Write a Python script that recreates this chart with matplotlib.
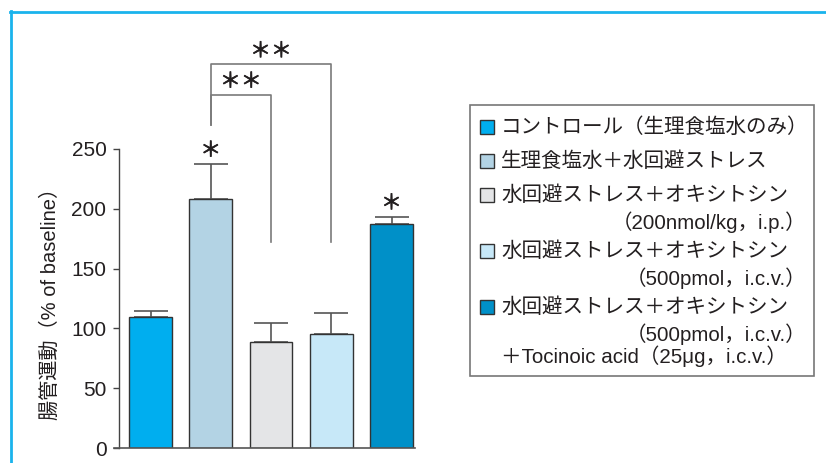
import matplotlib
matplotlib.use('Agg')
import matplotlib.pyplot as plt
import matplotlib.patheffects as pe
from matplotlib.patches import Rectangle
from matplotlib.lines import Line2D

# ── data ─────────────────────────────────────────────────────────────────────
groups = ['control', 'stress', 'oxt_ip', 'oxt_icv', 'oxt_icv_antag']
means = [109.5, 208.0, 88.6, 95.1, 187.3]
sems = [5.3, 29.2, 15.7, 17.5, 5.8]
bar_colors = ['#00AEEF', '#B3D3E4', '#E4E5E7', '#C7E8F8', '#0090C8']
yticks = [0, 50, 100, 150, 200, 250]
ylabel = '腸管運動（% of baseline）'

single_star_bars = [1, 4]
# (from bar, to bar, bracket height, drop-end height)
brackets = [(1, 2, 295.4, 172.0), (1, 3, 320.8, 172.0)]
bracket_start = 270.0

legend_lines = [
    ['コントロール（生理食塩水のみ）'],
    ['生理食塩水＋水回避ストレス'],
    ['水回避ストレス＋オキシトシン', '（200nmol/kg，i.p.）'],
    ['水回避ストレス＋オキシトシン', '（500pmol，i.c.v.）'],
    ['水回避ストレス＋オキシトシン', '（500pmol，i.c.v.）'],
]
legend_extra = '＋Tocinoic acid（25μg，i.c.v.）'

FONTS = ['Liberation Sans', 'Noto Sans CJK JP', 'DejaVu Sans']
plt.rcParams['font.family'] = FONTS

W, H = 826, 463
TXT = '#231f20'


def fx(x):
    return x / W


def fy(y):
    return 1 - y / H


fig = plt.figure(figsize=(W / 100, H / 100), dpi=100, facecolor='white')

# ── frame ────────────────────────────────────────────────────────────────────
FRAME = '#1AB3EC'
fig.add_artist(Line2D([fx(10.5), fx(10.5)], [fy(11), 0], color=FRAME,
                      lw=2, transform=fig.transFigure))
fig.add_artist(Line2D([fx(9.5), 1], [fy(11.5), fy(11.5)], color=FRAME,
                      lw=2, transform=fig.transFigure))

# ── bar chart ────────────────────────────────────────────────────────────────
ax = fig.add_axes([fx(119), fy(448), fx(415) - fx(119), fy(149) - fy(448)])
x = list(range(len(groups)))
ax.bar(x, means, width=0.71, color=bar_colors, edgecolor='#333333', lw=1,
       zorder=2)
ax.errorbar(x, means, yerr=[[0] * len(sems), sems], fmt='none',
            ecolor='#555555', elinewidth=1.2, capsize=12, capthick=1.2,
            zorder=1)

ax.set_xlim(-0.523, 4.39)
ax.set_ylim(0, 250)
ax.set_yticks(yticks)
ax.set_xticks([])
for s in ['top', 'right', 'bottom']:
    ax.spines[s].set_visible(False)
ax.spines['left'].set_color('#444444')
ax.spines['left'].set_linewidth(1)
ax.tick_params(axis='y', length=4, width=1, color='#444444', pad=5,
               labelsize=15, labelcolor=TXT)
ax.plot([-0.61, 4.39], [0, 0], color='#555555', lw=1.2, clip_on=False,
        zorder=3)
ax.set_ylabel(ylabel, fontsize=14.5, color=TXT, labelpad=8)

# significance markers
star_kw = dict(ha='center', va='center', fontsize=15, color=TXT,
               family='Noto Sans CJK JP', clip_on=False,
               path_effects=[pe.withStroke(linewidth=0.5, foreground=TXT)])
for i in single_star_bars:
    ax.text(i, means[i] + sems[i] + 11.5, '＊', **star_kw)

for a, b, top, end in brackets:
    ax.plot([a, a, b, b], [bracket_start, top, top, end], color='#7a7a7a',
            lw=1.2, clip_on=False)
    ax.text((a + b) / 2, top + 11, '＊＊', **star_kw)

# ── legend ───────────────────────────────────────────────────────────────────
fig.add_artist(Rectangle((fx(470), fy(376)), fx(814) - fx(470),
                         fy(105) - fy(376), transform=fig.transFigure,
                         fill=False, edgecolor='#777777', lw=1.2))

LEG_FS = 14.8
y = 127.0
for lines, col in zip(legend_lines, bar_colors):
    fig.add_artist(Rectangle((fx(480), fy(y + 7)), fx(494) - fx(480),
                             fy(y - 7) - fy(y + 7), transform=fig.transFigure,
                             facecolor=col, edgecolor='#333333', lw=1))
    fig.text(fx(501), fy(y), lines[0], ha='left', va='center',
             fontsize=LEG_FS, color=TXT)
    y += 27
    for extra in lines[1:]:
        fig.text(fx(806), fy(y), extra, ha='right', va='center',
                 fontsize=LEG_FS, color=TXT)
        y += 29
    if len(lines) == 1:
        y += 7
fig.text(fx(501), fy(356.7), legend_extra, ha='left', va='center',
         fontsize=LEG_FS, color=TXT)

fig.savefig('out.png', dpi=100, facecolor='white')
